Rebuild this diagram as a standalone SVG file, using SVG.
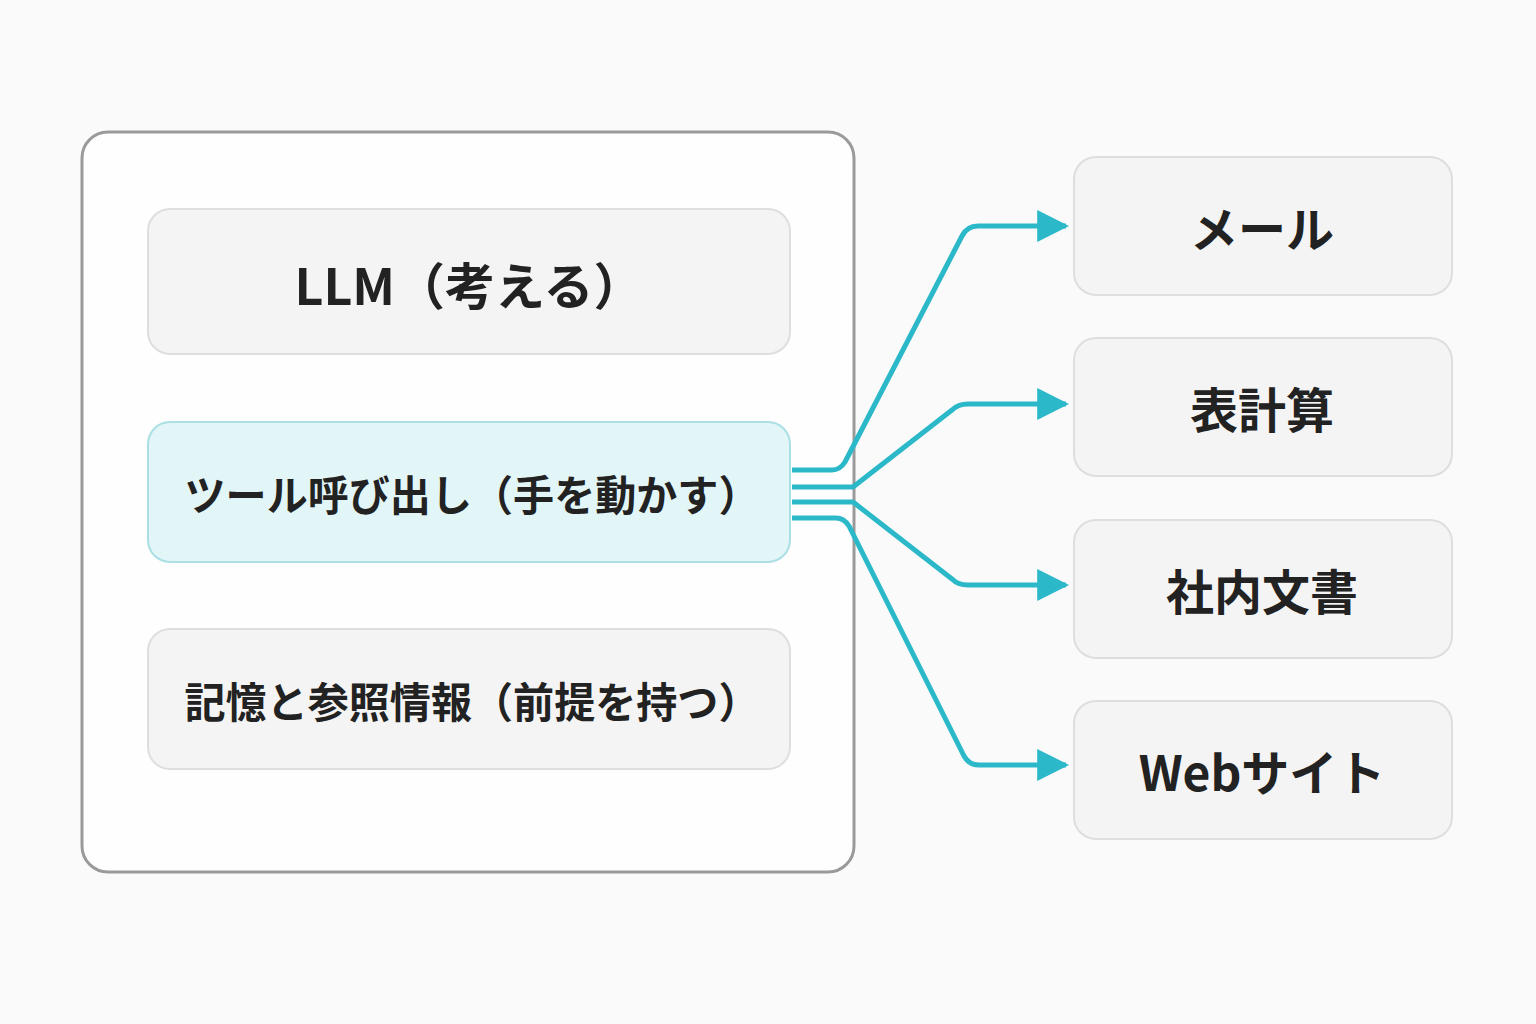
<svg xmlns="http://www.w3.org/2000/svg" width="1536" height="1024" viewBox="0 0 1536 1024">
<defs>
<style>
.t{font-family:"Noto Sans CJK JP","Noto Sans",sans-serif;font-weight:700;fill:#222;text-anchor:middle;dominant-baseline:central}
.box{fill:#f4f4f4;stroke:#dedede;stroke-width:2}
.c{fill:none;stroke:#2bb8c8;stroke-width:5;stroke-linejoin:round}
</style>
<marker id="a" viewBox="0 0 10 10" refX="9" refY="5" markerWidth="6.4" markerHeight="7.4" markerUnits="strokeWidth" orient="auto"><path d="M0,0L10,5L0,10z" fill="#2bb8c8"/></marker>
</defs>
<rect width="1536" height="1024" fill="#fafafa"/>
<g id="container"><rect x="82" y="132" width="772" height="740" rx="26" fill="#fefefe" stroke="#9a9a9a" stroke-width="3"/></g>
<g id="llm"><rect class="box" x="148" y="209" width="642" height="145" rx="22"/><text class="t" x="469" y="283" font-size="50">LLM（考える）</text></g>
<g id="tool"><rect x="148" y="422" width="642" height="140" rx="22" fill="#e2f5f7" stroke="#a9dfe5" stroke-width="2"/><text class="t" x="472" y="492" font-size="42" textLength="575" lengthAdjust="spacingAndGlyphs">ツール呼び出し（手を動かす）</text></g>
<g id="memory"><rect class="box" x="148" y="629" width="642" height="140" rx="22"/><text class="t" x="472" y="699" font-size="42" textLength="575" lengthAdjust="spacingAndGlyphs">記憶と参照情報（前提を持つ）</text></g>
<g id="mail"><rect class="box" x="1074" y="157" width="378" height="138" rx="22"/><text class="t" x="1262" y="226" font-size="48">メール</text></g>
<g id="sheet"><rect class="box" x="1074" y="338" width="378" height="138" rx="22"/><text class="t" x="1262" y="407" font-size="48">表計算</text></g>
<g id="docs"><rect class="box" x="1074" y="520" width="378" height="138" rx="22"/><text class="t" x="1262" y="589" font-size="48">社内文書</text></g>
<g id="web"><rect class="box" x="1074" y="701" width="378" height="138" rx="22"/><text class="t" x="1262" y="770" font-size="48">Webサイト</text></g>
<g id="connectors">
<path class="c" marker-end="url(#a)" d="M792,470H832Q840,470 845,462L962,236Q967,226 978,226H1066"/>
<path class="c" marker-end="url(#a)" d="M792,487H853L952,410Q958,404 968,404H1066"/>
<path class="c" marker-end="url(#a)" d="M792,502H853L952,579Q958,585 968,585H1066"/>
<path class="c" marker-end="url(#a)" d="M792,518H836Q844,518 849,526L964,756Q969,765 979,765H1066"/>
</g>
</svg>
